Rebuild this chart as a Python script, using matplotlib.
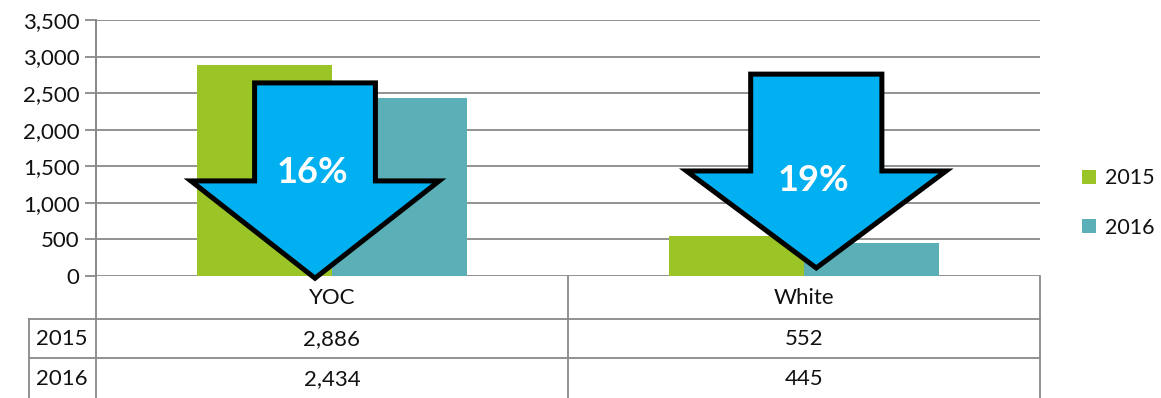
import matplotlib
matplotlib.use("Agg")
import matplotlib.pyplot as plt
from matplotlib.patches import Polygon
from matplotlib.lines import Line2D
import numpy as np

categories = ["YOC", "White"]
series_names = ["2015", "2016"]
values_2015 = [2886, 552]
values_2016 = [2434, 445]
y_ticks = [0, 500, 1000, 1500, 2000, 2500, 3000, 3500]

plt.rcParams['font.family'] = ['Lato', 'DejaVu Sans']

W, H = 1161, 398
fig = plt.figure(figsize=(W / 100, H / 100), dpi=100)

def fx(px):
    return px / W

def fy(py):
    return 1 - py / H

L, R, T, B = 96, 1040, 20, 276
ax = fig.add_axes([fx(L), fy(B), fx(R) - fx(L), fy(T) - fy(B)])
ax.set_xlim(-0.5, len(categories) - 0.5)
ax.set_ylim(0, 3500)

green = "#9BC527"
teal = "#5BB0B8"
grid_c = "#898989"
txt_c = "#111111"
fs = 16

x = np.arange(len(categories))
bw = 0.286
ax.bar(x - bw, values_2015, width=bw, align='edge', color=green, label=series_names[0], zorder=2)
ax.bar(x, values_2016, width=bw, align='edge', color=teal, label=series_names[1], zorder=2)

ax.set_yticks(y_ticks)
ax.set_yticklabels([f"{v:,}" for v in y_ticks], fontsize=fs, color=txt_c)
ax.tick_params(axis='y', length=8, width=1.3, color=grid_c, pad=4)
ax.set_xticks([])
for v in y_ticks:
    ax.axhline(v, color=grid_c, lw=1.3, zorder=1)
for s in ['top', 'right', 'bottom']:
    ax.spines[s].set_visible(False)
ax.spines['left'].set_color(grid_c)
ax.spines['left'].set_linewidth(1.3)

# Decline arrows (shape relative to category)
arrow_specs = [
    dict(cx=-0.036, sw=0.128, hw=0.263, top=2640, sh=1300, tip=-30, ty=1420),
    dict(cx=0.026, sw=0.139, hw=0.275, top=2760, sh=1436, tip=110, ty=1300),
]
for i, spec in enumerate(arrow_specs):
    c = x[i] + spec['cx']
    pts = [
        (c - spec['sw'], spec['top']), (c + spec['sw'], spec['top']),
        (c + spec['sw'], spec['sh']), (c + spec['hw'], spec['sh']),
        (c, spec['tip']), (c - spec['hw'], spec['sh']),
        (c - spec['sw'], spec['sh']),
    ]
    poly = Polygon(pts, closed=True, facecolor="#00B0F0", edgecolor="black",
                   lw=3.6, joinstyle='miter', zorder=5, clip_on=False)
    ax.add_patch(poly)
    pct = round((values_2015[i] - values_2016[i]) / values_2015[i] * 100)
    ax.text(c - 0.005, spec['ty'], f"{pct}%", color="white", fontsize=26,
            fontweight='bold', ha='center', va='center', zorder=6)

# Data table
lw = 1.3
def fline(x0, y0, x1, y1):
    fig.add_artist(Line2D([fx(x0), fx(x1)], [fy(y0), fy(y1)], color=grid_c, lw=lw))

fline(L, T, L, H)
fline(R, B, R, H)
mid = (L + R) / 2
fline(mid, B, mid, H)
fline(29, 319, R, 319)
fline(29, 358, R, 358)
fline(29, 319, 29, H)

def data_to_px(xd):
    return L + (xd + 0.5) / len(categories) * (R - L)

for i, cat in enumerate(categories):
    cxp = data_to_px(x[i])
    fig.text(fx(cxp), fy(298), cat, ha='center', va='center', fontsize=fs, color=txt_c)
    fig.text(fx(cxp), fy(339), f"{values_2015[i]:,}", ha='center', va='center', fontsize=fs, color=txt_c)
    fig.text(fx(cxp), fy(379), f"{values_2016[i]:,}", ha='center', va='center', fontsize=fs, color=txt_c)
for name, yp in zip(series_names, [339, 379]):
    fig.text(fx(62), fy(yp), name, ha='center', va='center', fontsize=fs, color=txt_c)

leg = fig.legend(loc='center left', bbox_to_anchor=(fx(1082), fy(203)), frameon=False,
                 fontsize=15.5, handlelength=0.65, handleheight=0.65, handletextpad=0.4,
                 labelspacing=1.35, borderaxespad=0, borderpad=0)
for t in leg.get_texts():
    t.set_color(txt_c)

fig.savefig("out.png", dpi=100)
